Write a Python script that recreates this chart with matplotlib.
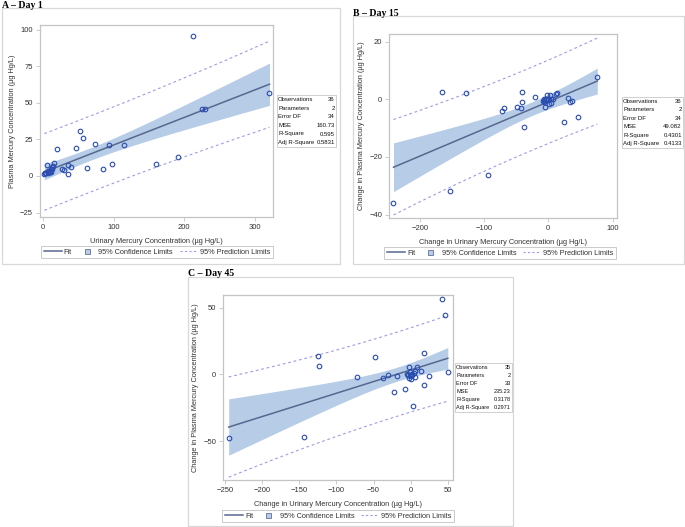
import numpy as np
import matplotlib
matplotlib.use("Agg")
import matplotlib.pyplot as plt
from matplotlib.patches import Rectangle
from matplotlib.lines import Line2D

# ---------------- data ----------------
a_x = [1.5, 2.5, 4, 5, 6, 8, 9.5, 10.5, 11, 12, 14, 15.5, 19, 26.5, 29.5, 34.5, 35.5, 39,
       47, 51.5, 56, 62, 74, 85, 93.5, 98, 114, 160, 191, 213, 225, 230, 321, 3, 7, 13]
a_y = [1.5, 2.0, 1.8, 7.6, 2.0, 2.5, 3.0, 4.5, 2.5, 6.0, 6.8, 8.6, 18.2, 4.6, 3.9, 1.6, 7.7, 5.9,
       18.9, 30.5, 26, 5.7, 22.1, 5.0, 21.2, 8.4, 21.2, 8.2, 12.8, 95.6, 45.5, 45.8, 57.0, 2.2, 3.5, 5.0]

b_x = [-241, -165, -153, -128.7, -94, -72, -69, -49, -42.5, -41.4, -40.5, -37.4, -21, -7.3, -6.7,
       -6, -5.6, -4.2, -2.5, -1, 0, 1.6, 2.7, 3.7, 5, 7.8, 11.5, 13, 24.5, 31, 34.3, 37, 46.3, 76.3, -8, -3]
b_y = [-35.9, 2.5, -31.7, 2.3, -26.3, -4.1, -2.9, -2.6, -3.0, -0.8, 2.6, -9.5, 0.8, -0.9, 0.0,
       -0.3, -2.8, 0.0, 1.5, -0.2, 0.0, -1.7, 1.5, -1.4, 0.2, 0.0, 1.8, 2.3, -7.8, 0.6, -0.8, -0.6, -6.0, 7.7, -0.5, 0.3]

c_x = [-245, -144, -124.5, -123.5, -72, -48.5, -37, -30, -23, -18, -7, -5, -3, -2, -1.5, -1, 0, 0.5,
       1, 2, 3.6, 5, 6.3, 6.3, 9, 13.5, 17.5, 18.5, 24.3, 42.2, 46.8, 50, -4, -2.5, 1.5]
c_y = [-48, -46.8, 14, 6.2, -2, 12.7, -2.8, -0.3, -13, -1, -10.8, 0.2, -0.5, 5.5, 2, -0.8, -0.2, -3.8,
       -1.2, -0.5, -23.8, 1.0, -2.3, 2.5, 5.5, 2.2, 16.2, -7.8, -1, 56.3, 44.2, 2, -0.3, -2.5, 0.5]

stat_labels = ["Observations", "Parameters", "Error DF", "MSE", "R-Square", "Adj R-Square"]
a_stats = ["36", "2", "34", "160.73", "0.595", "0.5831"]
b_stats = ["36", "2", "34", "49.082", "0.4301", "0.4133"]
c_stats = ["35", "2", "33", "235.23", "0.3178", "0.2971"]

panel_titles = ["A \u2013 Day 1", "B \u2013 Day 15", "C \u2013 Day 45"]
a_xlabel = "Urinary Mercury Concentration (\u00b5g Hg/L)"
a_ylabel = "Plasma Mercury Concentration (\u00b5g Hg/L)"
bc_xlabel = "Change in Urinary Mercury Concentration (\u00b5g Hg/L)"
bc_ylabel = "Change in Plasma Mercury Concentration (\u00b5g Hg/L)"
a_xticks = [0, 100, 200, 300]
a_yticks = [-25, 0, 25, 50, 75, 100]
b_xticks = [-200, -100, 0, 100]
b_yticks = [-40, -20, 0, 20]
c_xticks = [-250, -200, -150, -100, -50, 0, 50]
c_yticks = [-50, 0, 50]
legend_labels = ["Fit", "95% Confidence Limits", "95% Prediction Limits"]

T_CRIT = {34: 2.0322, 33: 2.0345}

# ---------------- style ----------------
plt.rcParams['font.family'] = ['Liberation Sans', 'DejaVu Sans']
W, H = 685, 527
BAND = "#b7cce6"
FIT = "#56688f"
MARK = "#2a4db0"
PRED = "#9c9ce8"
FRAME = "#c4c4c4"
TXT = "#333333"

fig = plt.figure(figsize=(W / 100, H / 100), dpi=100)


def fx(px):
    return px / W


def fy(py):
    return 1 - py / H


def frect(l, t, r, b, **kw):
    fig.patches.append(Rectangle((fx(l), fy(b)), fx(r) - fx(l), fy(t) - fy(b),
                                 transform=fig.transFigure, fill=False, **kw))


def panel(box, axbox, xs, ys, xlim, ylim, xticks, yticks, xlabel, ylabel, title, stats,
          statbox, stat_fs, legcenter):
    # outer panel frame + title
    l, t, r, b = box
    frect(l, t, r, b, edgecolor="#d8d8d8", lw=0.9)
    fig.text(fx(l), fy(t - 0.5), title, family=['Liberation Serif', 'DejaVu Serif'],
             weight='bold', fontsize=7, ha='left', va='baseline')

    al, at, ar, ab = axbox
    ax = fig.add_axes([fx(al), fy(ab), fx(ar) - fx(al), fy(at) - fy(ab)])
    x = np.asarray(xs, float)
    y = np.asarray(ys, float)
    n = len(x)
    slope, icpt = np.polyfit(x, y, 1)
    resid = y - (icpt + slope * x)
    mse = np.sum(resid ** 2) / (n - 2)
    xbar = x.mean()
    sxx = np.sum((x - xbar) ** 2)
    tc = T_CRIT[n - 2]
    xg = np.linspace(x.min(), x.max(), 200)
    yg = icpt + slope * xg
    se_m = np.sqrt(mse * (1 / n + (xg - xbar) ** 2 / sxx))
    se_p = np.sqrt(mse * (1 + 1 / n + (xg - xbar) ** 2 / sxx))
    ax.fill_between(xg, yg - tc * se_m, yg + tc * se_m, color=BAND, lw=0, zorder=1)
    ax.plot(xg, yg, color=FIT, lw=1.1, zorder=2)
    ax.plot(xg, yg - tc * se_p, color=PRED, lw=0.8, ls=(0, (2.5, 2.5)), zorder=2)
    ax.plot(xg, yg + tc * se_p, color=PRED, lw=0.8, ls=(0, (2.5, 2.5)), zorder=2)
    ax.plot(x, y, 'o', mfc='none', mec=MARK, ms=3.3, mew=0.8, zorder=3)
    ax.set_xlim(*xlim)
    ax.set_ylim(*ylim)
    ax.set_xticks(xticks)
    ax.set_yticks(yticks)
    for s in ax.spines.values():
        s.set_color(FRAME)
        s.set_linewidth(0.9)
    ax.tick_params(axis='both', labelsize=5.5, colors=TXT, length=3, width=0.6, pad=2)
    ax.tick_params(color=FRAME)
    ax.set_xlabel(xlabel, fontsize=5.3, color=TXT, labelpad=5)
    ax.set_ylabel(ylabel, fontsize=5.3, color=TXT, labelpad=3)

    # stats box
    sl, st, sr, sb = statbox
    frect(sl, st, sr, sb, edgecolor="#cfcfcf", lw=0.7)
    rowh = (sb - st) / len(stat_labels)
    for i, (lab, val) in enumerate(zip(stat_labels, stats)):
        yy = st + rowh * (i + 0.5)
        fig.text(fx(sl + 1.2), fy(yy), lab, fontsize=stat_fs, color="#111111", ha='left', va='center')
        fig.text(fx(sr - 1.2), fy(yy), val, fontsize=stat_fs, color="#111111", ha='right', va='center')

    # legend
    handles = [Line2D([], [], color=FIT, lw=1.1),
               Line2D([], [], ls='none', marker='s', ms=3.6, mfc=BAND, mec="#5f6f95", mew=0.6),
               Line2D([], [], color=PRED, lw=0.8, ls=(0, (2, 2)))]
    lg = fig.legend(handles, legend_labels, loc='center', ncol=3,
                    bbox_to_anchor=(fx(legcenter[0]), fy(legcenter[1])),
                    fontsize=5.3, frameon=True, fancybox=False, handlelength=2.4,
                    handleheight=0.8, handletextpad=0.3, columnspacing=0.9,
                    borderpad=0.35, labelcolor=TXT)
    lg.get_frame().set_edgecolor("#bdbdbd")
    lg.get_frame().set_linewidth(0.7)
    return ax


panel((2, 8, 340, 264), (40, 25, 273, 217), a_x, a_y, (-4.7, 326), (-28, 103.1),
      a_xticks, a_yticks, a_xlabel, a_ylabel, panel_titles[0], a_stats,
      (277, 95, 336, 147), 4.3, (157, 252))

panel((353, 16, 684, 264), (389, 34, 617, 218), b_x, b_y, (-248, 107), (-41.2, 22.7),
      b_xticks, b_yticks, bc_xlabel, bc_ylabel, panel_titles[1], b_stats,
      (622, 97, 683, 148), 4.3, (500, 253))

panel((188, 277, 513, 526), (223, 295, 453, 480), c_x, c_y, (-252.7, 57), (-79.2, 59.4),
      c_xticks, c_yticks, bc_xlabel, bc_ylabel, panel_titles[2], c_stats,
      (455, 363, 512, 412), 4.0, (338, 516))

fig.savefig("out.png", dpi=100)
